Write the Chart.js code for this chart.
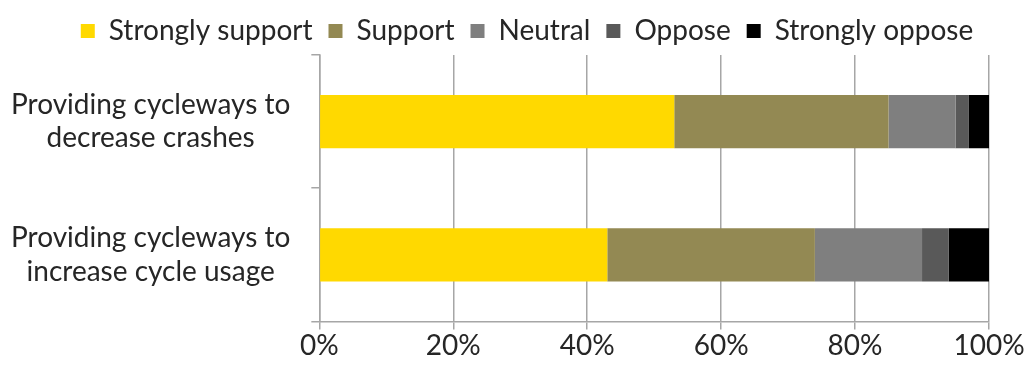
<!DOCTYPE html>
<html>
<head>
<meta charset="utf-8">
<script src="https://cdn.jsdelivr.net/npm/chart.js@4"></script>
<style>
  body { margin: 0; background: #fff; }
  #wrap { width: 1026px; height: 365px; overflow: hidden; position: relative; }
  #supportChart { position: absolute; left: 0; top: -5px; }
</style>
</head>
<body>
<div id="wrap"><canvas id="supportChart" width="1026" height="370"></canvas></div>
<script>
// survey statements (two-line labels)
const categories = [
    ["Providing cycleways to", "decrease crashes"],
    ["Providing cycleways to", "increase cycle usage"]
];

// share of respondents, percent
const strongSupport = [53, 43];
const support = [32, 31];
const neutral = [10, 16];
const oppose = [2, 4];
const strongOppose = [3, 6];

const seriesNames = ["Strongly support", "Support", "Neutral", "Oppose", "Strongly oppose"];
const seriesColors = ["#FFD900", "#938953", "#7F7F7F", "#595959", "#000000"];
const xTicks = [0, 20, 40, 60, 80, 100];

const labelFont = { family: "Lato, 'Open Sans', sans-serif", size: 28 };
const textColor = "#262626";
const gridColor = "#A6A6A6";

const values = [strongSupport, support, neutral, oppose, strongOppose];

const ctx = document.getElementById("supportChart").getContext("2d");

new Chart(ctx, {
    type: "bar",
    data: {
        labels: categories,
        datasets: seriesNames.map((name, i) => ({
            label: name,
            data: values[i],
            backgroundColor: seriesColors[i],
            borderWidth: 0,
            categoryPercentage: 1,
            barPercentage: 0.4
        }))
    },
    options: {
        indexAxis: "y",
        responsive: false,
        animation: false,
        // legend sits a little right of centre, so the right side is opened up
        layout: { padding: { left: -10, right: -38, top: -4, bottom: 2 } },
        plugins: {
            tooltip: { enabled: false },
            legend: {
                position: "top",
                labels: {
                    color: textColor,
                    font: labelFont,
                    boxWidth: 14,
                    boxHeight: 14,
                    padding: 16
                }
            }
        },
        scales: {
            x: {
                stacked: true,
                min: 0,
                max: 100,
                afterBuildTicks: axis => {
                    axis.ticks = xTicks.map(v => ({ value: v }));
                },
                // keep room for the "100%" label at the right end
                afterFit: scale => {
                    scale.paddingRight = 37;
                },
                ticks: {
                    color: textColor,
                    font: labelFont,
                    padding: 0,
                    callback: v => v + "%"
                },
                grid: {
                    color: gridColor,
                    lineWidth: 1.5,
                    tickLength: 8
                },
                border: { color: gridColor, width: 1.5 }
            },
            y: {
                stacked: true,
                // two-line labels sit well inside the bands; gap below the legend
                afterFit: scale => {
                    scale.paddingTop = 60;
                    scale.paddingBottom = 0;
                },
                ticks: {
                    color: textColor,
                    font: labelFont,
                    crossAlign: "center",
                    padding: 21
                },
                grid: {
                    offset: true,
                    drawOnChartArea: false,
                    color: gridColor,
                    lineWidth: 1.5,
                    tickLength: 8
                },
                border: { color: gridColor, width: 1.5 }
            }
        }
    }
});
</script>
</body>
</html>
